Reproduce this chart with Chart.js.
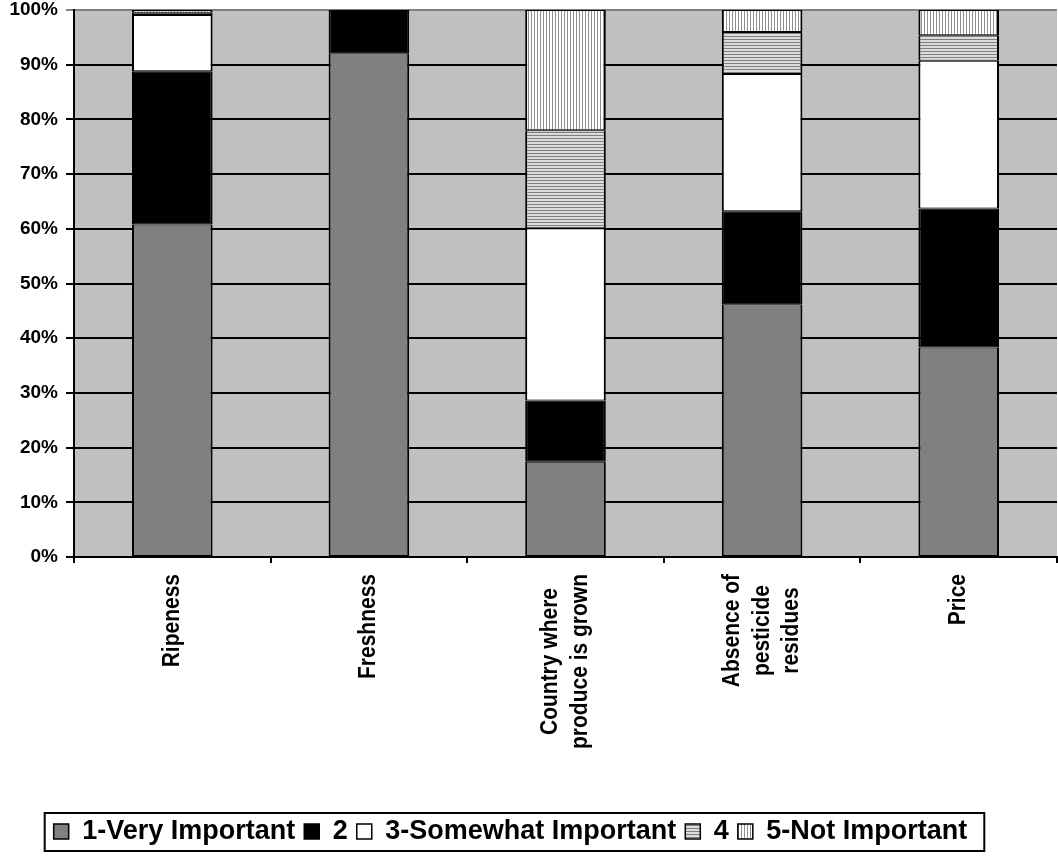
<!DOCTYPE html>
<html>
<head>
<meta charset="utf-8">
<script src="https://cdn.jsdelivr.net/npm/chart.js@4.4.1/dist/chart.umd.min.js"></script>
<style>
  html, body { margin: 0; padding: 0; background: #ffffff; }
  #wrap { width: 1058px; height: 860px; }
</style>
</head>
<body>
<div id="wrap"><canvas id="my-chart" width="1058" height="860"></canvas></div>
<script>
const categories = [
  "Ripeness",
  "Freshness",
  ["Country where", "produce is grown"],
  ["Absence of", "pesticide", "residues"],
  "Price",
];

const seriesNames = ["1-Very Important", "2", "3-Somewhat Important", "4", "5-Not Important"];

const veryImportant = [60.8, 92.1, 17.4, 46.2, 38.3];
const two = [28.0, 7.9, 11.2, 17.0, 25.4];
const somewhatImportant = [10.3, 0, 31.5, 25.1, 27.0];
const four = [0.4, 0, 17.9, 7.7, 4.7];
const notImportant = [0.5, 0, 22.0, 4.0, 4.6];

const yTicks = [0, 10, 20, 30, 40, 50, 60, 70, 80, 90, 100];

const FONT = "'Liberation Sans', Arial, sans-serif";

//stripe patterns for series 4 and 5
function makePattern(horizontal, bg, fg) {
  const c = document.createElement("canvas");
  c.width = 3;
  c.height = 3;
  const ctx = c.getContext("2d");
  ctx.fillStyle = bg;
  ctx.fillRect(0, 0, 3, 3);
  ctx.fillStyle = fg;
  if (horizontal) ctx.fillRect(0, 0, 3, 1);
  else ctx.fillRect(0, 0, 1, 3);
  return ctx.createPattern(c, "repeat");
}

const fills = [
  "#808080",
  "#000000",
  "#ffffff",
  makePattern(true, "#dcdcdc", "#808080"),
  makePattern(false, "#ffffff", "#909090"),
];
const seriesData = [veryImportant, two, somewhatImportant, four, notImportant];

//plot background
const plotBackground = {
  id: "plotBackground",
  beforeDraw(chart) {
    const { ctx, chartArea } = chart;
    ctx.save();
    ctx.fillStyle = "#c0c0c0";
    ctx.fillRect(chartArea.left, chartArea.top, chartArea.right - chartArea.left, chartArea.bottom - chartArea.top);
    ctx.restore();
  },
};

//category labels, rotated with centred lines
const xLabels = {
  id: "xLabels",
  afterDraw(chart) {
    const { ctx } = chart;
    const xScale = chart.scales.x;
    const top = chart.chartArea.bottom + 17;
    ctx.save();
    ctx.font = "bold 21px " + FONT;
    ctx.fillStyle = "#000000";
    ctx.textAlign = "center";
    ctx.textBaseline = "middle";
    chart.data.labels.forEach((label, i) => {
      const lines = Array.isArray(label) ? label : [label];
      const maxW = Math.max(...lines.map(l => ctx.measureText(l).width));
      const cx = xScale.getPixelForValue(i);
      ctx.save();
      ctx.translate(cx, top);
      ctx.rotate(-Math.PI / 2);
      ctx.scale(1, 1.12);
      lines.forEach((line, j) => {
        const off = (j - (lines.length - 1) / 2) * 26;
        ctx.fillText(line, -maxW / 2, off);
      });
      ctx.restore();
    });
    ctx.restore();
  },
};

//legend shift and frame
const legendFrame = {
  id: "legendFrame",
  afterLayout(chart) {
    chart.legend.left -= 18;
    chart.legend.right -= 18;
  },
  afterDraw(chart) {
    const boxes = chart.legend.legendHitBoxes;
    if (!boxes || !boxes.length) return;
    const left = Math.min(...boxes.map(b => b.left)) - 9;
    const right = Math.max(...boxes.map(b => b.left + b.width)) + 17;
    const top = Math.min(...boxes.map(b => b.top)) - 5;
    const bottom = Math.max(...boxes.map(b => b.top + b.height)) + 6;
    const { ctx } = chart;
    ctx.save();
    ctx.strokeStyle = "#000000";
    ctx.lineWidth = 2;
    ctx.strokeRect(left, top, right - left, bottom - top);
    ctx.restore();
  },
};

function buildDatasets() {
  return seriesNames.map((name, i) => ({
    label: name,
    data: seriesData[i],
    backgroundColor: fills[i],
    borderColor: "#000000",
    borderWidth: { top: 1, bottom: 1, left: 2, right: 2 },
    borderSkipped: false,
    categoryPercentage: 1,
    barPercentage: 0.41,
  }));
}

const chart = new Chart(document.getElementById("my-chart"), {
  type: "bar",
  data: {
    labels: categories,
    datasets: buildDatasets(),
  },
  options: {
    responsive: false,
    animation: false,
    layout: {
      padding: { top: 0, right: 1, bottom: 5, left: 0 },
    },
    plugins: {
      tooltip: { enabled: false },
      legend: {
        position: "bottom",
        labels: {
          color: "#000000",
          font: { family: FONT, size: 27, weight: "bold" },
          boxWidth: 15,
          boxHeight: 15,
          padding: 9,
        },
      },
    },
    scales: {
      x: {
        stacked: true,
        offset: true,
        grid: {
          offset: true,
          drawOnChartArea: false,
          drawTicks: true,
          tickLength: 6,
          color: "#000000",
          lineWidth: 2,
        },
        border: { display: true, color: "#000000", width: 2 },
        ticks: { display: false },
        afterFit(scale) {
          scale.height = 252;
        },
      },
      y: {
        stacked: true,
        min: 0,
        max: 100,
        afterBuildTicks(scale) {
          scale.ticks = yTicks.map(v => ({ value: v }));
        },
        ticks: {
          color: "#000000",
          padding: 8,
          font: { family: FONT, size: 19, weight: "bold" },
          callback: (v) => v + "%",
        },
        grid: {
          color: (ctx) => (ctx.tick && ctx.tick.value === 100 ? "#808080" : "#000000"),
          lineWidth: 2,
          tickLength: 8,
        },
        border: { display: true, color: "#000000", width: 2 },
        afterFit(scale) {
          scale.width = 74;
          scale.paddingTop = 10;
          scale.paddingBottom = 0;
        },
      },
    },
  },
  plugins: [plotBackground, xLabels, legendFrame],
});
</script>
</body>
</html>
